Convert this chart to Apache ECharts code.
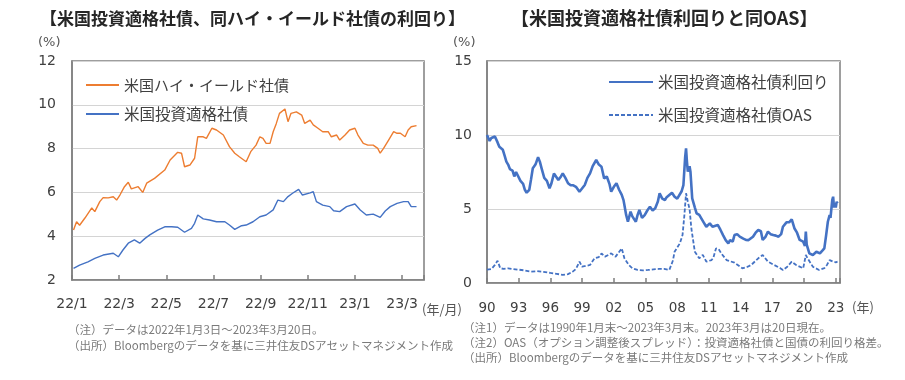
<!DOCTYPE html>
<html><head><meta charset="utf-8">
<script src="https://cdn.jsdelivr.net/npm/echarts@6/dist/echarts.min.js"></script>
<style>html,body{margin:0;padding:0;background:#fff}#c{width:905px;height:380px}</style>
</head><body><div id="c"></div><script>
// ---- Left chart: daily-ish yields 2022/1/3 - 2023/3/20 (%)
const hyDates = ['2022-01-03','2022-01-07','2022-01-11','2022-01-18','2022-01-27','2022-01-31','2022-02-06','2022-02-10','2022-02-16','2022-02-22','2022-02-26','2022-03-02','2022-03-08','2022-03-13','2022-03-17','2022-03-26','2022-04-01','2022-04-06','2022-04-16','2022-04-29','2022-05-06','2022-05-16','2022-05-21','2022-05-25','2022-06-01','2022-06-07','2022-06-11','2022-06-18','2022-06-22','2022-06-29','2022-07-05','2022-07-14','2022-07-22','2022-07-29','2022-08-04','2022-08-13','2022-08-19','2022-08-26','2022-08-31','2022-09-04','2022-09-08','2022-09-13','2022-09-17','2022-09-21','2022-09-25','2022-10-02','2022-10-04','2022-10-06','2022-10-10','2022-10-17','2022-10-24','2022-10-28','2022-11-04','2022-11-08','2022-11-14','2022-11-20','2022-11-27','2022-12-01','2022-12-08','2022-12-12','2022-12-19','2022-12-25','2023-01-01','2023-01-05','2023-01-12','2023-01-18','2023-01-25','2023-01-31','2023-02-03','2023-02-07','2023-02-13','2023-02-19','2023-02-23','2023-02-27','2023-03-05','2023-03-09','2023-03-13','2023-03-20'];
const hyValues = [4.28,4.66,4.5,4.83,5.29,5.12,5.58,5.76,5.75,5.8,5.65,5.88,6.26,6.46,6.16,6.26,6.0,6.42,6.64,7.02,7.48,7.83,7.79,7.17,7.25,7.56,8.54,8.54,8.47,8.93,8.85,8.62,8.09,7.79,7.63,7.4,7.86,8.16,8.54,8.47,8.24,8.24,8.77,9.15,9.61,9.81,9.87,9.23,9.61,9.68,9.53,9.15,9.3,9.08,8.93,8.77,8.77,8.54,8.62,8.39,8.62,8.85,8.93,8.62,8.24,8.16,8.16,8.01,7.79,8.01,8.39,8.77,8.7,8.7,8.54,8.85,9.0,9.05];
const igDates = ['2022-01-03','2022-01-11','2022-01-22','2022-01-31','2022-02-10','2022-02-22','2022-02-28','2022-03-06','2022-03-13','2022-03-21','2022-03-28','2022-04-04','2022-04-10','2022-04-20','2022-04-29','2022-05-08','2022-05-16','2022-05-25','2022-06-03','2022-06-07','2022-06-11','2022-06-18','2022-06-26','2022-07-05','2022-07-16','2022-07-22','2022-07-29','2022-08-07','2022-08-13','2022-08-22','2022-08-31','2022-09-08','2022-09-17','2022-09-23','2022-09-30','2022-10-06','2022-10-12','2022-10-20','2022-10-25','2022-11-04','2022-11-08','2022-11-12','2022-11-20','2022-11-29','2022-12-04','2022-12-12','2022-12-21','2023-01-01','2023-01-08','2023-01-16','2023-01-25','2023-02-03','2023-02-09','2023-02-15','2023-02-23','2023-03-03','2023-03-09','2023-03-13','2023-03-20'];
const igValues = [2.53,2.68,2.83,2.99,3.14,3.22,3.06,3.37,3.68,3.83,3.68,3.9,4.06,4.28,4.43,4.43,4.41,4.18,4.36,4.59,4.97,4.79,4.74,4.66,4.66,4.51,4.31,4.48,4.51,4.66,4.89,4.97,5.2,5.65,5.58,5.81,5.96,6.14,5.88,5.98,6.03,5.58,5.42,5.35,5.16,5.12,5.35,5.47,5.2,4.97,5.01,4.86,5.15,5.35,5.5,5.58,5.58,5.35,5.35];
const leftTickLabels = ['22/1','22/3','22/5','22/7','22/9','22/11','23/1','23/3'];
const leftYTicks = [2,4,6,8,10,12];

// ---- Right chart: month-end 1990/1 - 2023/3 (%)
const ytDates = ['1990-01','1990-04','1990-06','1990-10','1991-01','1991-03','1991-07','1991-09','1991-11','1992-01','1992-03','1992-06','1992-08','1992-10','1992-12','1993-03','1993-06','1993-08','1993-10','1994-01','1994-03','1994-05','1994-08','1994-11','1995-01','1995-03','1995-06','1995-09','1995-12','1996-02','1996-05','1996-07','1996-10','1997-01','1997-03','1997-06','1997-09','1997-12','1998-03','1998-06','1998-10','1998-12','1999-04','1999-07','1999-10','2000-01','2000-05','2000-08','2000-11','2001-02','2001-05','2001-08','2001-10','2002-01','2002-04','2002-07','2002-10','2002-12','2003-01','2003-03','2003-05','2003-08','2003-10','2004-02','2004-04','2004-06','2004-09','2004-12','2005-03','2005-06','2005-09','2005-12','2006-03','2006-05','2006-08','2006-11','2007-01','2007-04','2007-07','2007-10','2008-01','2008-03','2008-06','2008-08','2008-10','2008-11','2008-12','2009-01','2009-03','2009-04','2009-06','2009-09','2009-11','2010-02','2010-04','2010-07','2010-10','2011-02','2011-05','2011-07','2011-11','2012-02','2012-05','2012-08','2012-11','2013-01','2013-04','2013-06','2013-09','2013-12','2014-04','2014-07','2014-10','2015-03','2015-06','2015-09','2015-12','2016-02','2016-05','2016-08','2016-11','2017-02','2017-05','2017-08','2017-11','2018-01','2018-05','2018-08','2018-11','2019-02','2019-05','2019-08','2019-12','2020-02','2020-03','2020-04','2020-07','2020-11','2021-01','2021-03','2021-07','2021-10','2021-12','2022-02','2022-04','2022-06','2022-07','2022-09','2022-10','2022-11','2022-12','2023-01','2023-02','2023-03'];
const ytValues = [10.0,9.6,9.8,9.9,9.5,9.2,9.0,8.6,8.2,8.0,7.7,7.6,7.2,7.5,7.4,6.9,6.7,6.3,6.1,6.3,7.0,7.75,8.0,8.5,8.2,7.75,7.1,6.9,6.4,6.7,7.4,7.45,6.96,7.2,7.41,7.1,6.74,6.6,6.6,6.5,6.17,6.3,6.62,7.1,7.41,7.9,8.31,8.0,7.86,7.07,7.2,6.7,6.17,6.5,6.74,6.3,5.95,5.6,5.27,4.6,4.14,4.82,4.5,4.14,4.6,4.93,4.4,4.59,4.9,5.16,4.9,5.05,5.5,6.06,5.7,5.61,5.8,5.95,6.1,5.83,5.7,5.61,6.2,6.62,8.5,9.1,8.2,7.52,7.9,7.52,5.72,5.1,4.71,4.6,4.48,4.1,3.8,4.03,3.8,3.7,3.92,3.6,3.24,2.9,2.68,2.9,2.8,3.24,3.3,3.13,3.0,2.91,2.9,3.13,3.4,3.58,3.5,2.91,3.1,3.47,3.3,3.24,3.2,3.13,3.3,3.8,4.1,4.1,4.3,3.7,3.4,2.91,2.79,2.5,3.47,2.6,2.0,1.89,1.9,2.11,2.0,2.2,2.34,3.2,4.14,4.59,4.4,5.6,5.83,5.1,5.38,5.1,5.49,5.38];
const oasDates = ['1990-01','1990-06','1990-10','1991-01','1991-04','1991-08','1992-01','1992-06','1993-01','1993-08','1994-03','1994-10','1995-05','1996-01','1996-08','1997-03','1997-09','1998-02','1998-06','1998-10','1999-01','1999-05','1999-10','2000-03','2000-08','2000-11','2001-03','2001-07','2001-10','2002-03','2002-07','2002-10','2003-01','2003-06','2003-10','2004-04','2004-10','2005-04','2005-10','2006-04','2006-10','2007-04','2007-08','2007-10','2008-01','2008-04','2008-07','2008-09','2008-11','2008-12','2009-01','2009-03','2009-05','2009-08','2009-09','2010-02','2010-06','2010-10','2011-04','2011-06','2011-09','2011-12','2012-03','2012-09','2013-06','2014-03','2014-09','2015-01','2015-09','2016-02','2016-08','2017-03','2017-10','2018-01','2018-06','2018-11','2019-04','2019-12','2020-02','2020-03','2020-05','2020-11','2021-06','2021-12','2022-03','2022-06','2022-10','2023-01','2023-03'];
const oasValues = [0.9,0.95,1.22,1.5,1.0,0.95,0.99,0.95,0.9,0.85,0.77,0.8,0.75,0.68,0.62,0.55,0.6,0.75,0.95,1.44,1.1,1.15,1.22,1.67,1.75,2.0,1.78,1.9,2.0,1.78,2.1,2.34,1.67,1.22,1.0,0.88,0.85,0.88,0.92,0.95,0.95,0.88,1.5,2.11,2.4,2.68,3.24,4.5,6.06,5.8,5.49,5.0,3.7,2.5,2.11,1.67,1.9,1.44,1.55,1.7,2.34,2.3,2.0,1.55,1.37,0.99,1.1,1.22,1.67,1.89,1.44,1.22,1.0,0.88,1.1,1.44,1.22,0.99,1.0,1.89,1.67,1.1,0.88,1.0,1.22,1.55,1.44,1.4,1.44];
const rightTickLabels = ['90','93','96','99','02','05','08','11','14','17','20','23'];
const rightYTicks = [0,5,10,15];

function monthPos(s){const p=s.split('-').map(Number);const dim=new Date(p[0],p[1],0).getDate();return (p[0]-2022)*12+(p[1]-1)+(p[2]-1)/dim;}
function yearPos(s){const p=s.split('-').map(Number);return (p[0]-1990)+(p[1]-1)/12;}
const zip=(d,v,f)=>d.map((x,i)=>[f(x),v[i]]);

const ORANGE='#ED7D31', BLUE='#4472C4', AX='#7f7f7f', GRID='#d4d4d4', LBL='#404040', NOTE='#7a7a7a';
const JP="'Noto Sans CJK JP','Noto Sans',sans-serif";
const NUM="'DejaVu Sans',sans-serif";

function labelFmt(labels, step){return v=>{const i=v/step;return (Math.abs(i-Math.round(i))<1e-6 && labels[Math.round(i)]!==undefined)?labels[Math.round(i)]:'';};}
function lg(name,left,top,w,fs){return {data:[name],left:left,top:top,padding:0,itemWidth:w,itemHeight:14,itemStyle:{opacity:0,borderWidth:0},textStyle:{fontFamily:JP,fontSize:fs,color:'#404040',lineHeight:16}};}

const chart=echarts.init(document.getElementById('c'),null,{renderer:'canvas'});
const noteStyle={fill:NOTE,font:"11.5px "+JP};
chart.setOption({
  animation:false,
  backgroundColor:'#fff',
  grid:[
    {left:72,top:61,width:352,height:219,show:true,borderColor:AX,borderWidth:1.5,backgroundColor:'transparent'},
    {left:487,top:61,width:353,height:222,show:true,borderColor:AX,borderWidth:1.5,backgroundColor:'transparent'}
  ],
  xAxis:[
    {type:'value',gridIndex:0,min:0,max:14.93,interval:2,
     axisLine:{show:true,lineStyle:{color:AX,width:1.5}},
     axisTick:{show:true,inside:true,length:5,lineStyle:{color:AX,width:1.5}},
     splitLine:{show:false},
     axisLabel:{margin:17,color:LBL,fontFamily:NUM,fontSize:14,formatter:labelFmt(leftTickLabels,2)}},
    {type:'value',gridIndex:1,min:0,max:33.4,interval:3,
     axisLine:{show:true,lineStyle:{color:AX,width:1.5}},
     axisTick:{show:true,inside:true,length:5,lineStyle:{color:AX,width:1.5}},
     splitLine:{show:false},
     axisLabel:{margin:18,color:LBL,fontFamily:NUM,fontSize:13.5,formatter:labelFmt(rightTickLabels,3)}}
  ],
  yAxis:[
    {type:'value',gridIndex:0,min:leftYTicks[0],max:leftYTicks[leftYTicks.length-1],interval:2,
     axisLine:{show:true,lineStyle:{color:AX,width:1.5}},axisTick:{show:false},
     splitLine:{show:true,lineStyle:{color:GRID,width:1.2}},
     axisLabel:{margin:16,color:LBL,fontFamily:NUM,fontSize:14}},
    {type:'value',gridIndex:1,min:rightYTicks[0],max:rightYTicks[rightYTicks.length-1],interval:5,
     axisLine:{show:true,lineStyle:{color:AX,width:1.5}},axisTick:{show:false},
     splitLine:{show:true,lineStyle:{color:GRID,width:1.2}},
     axisLabel:{margin:15,color:LBL,fontFamily:NUM,fontSize:14}}
  ],
  legend:[
    lg('米国ハイ・イールド社債',85,77,33,15),
    lg('米国投資適格社債',85,106,33,15.5),
    lg('米国投資適格社債利回り',608,74,44,15.5),
    lg('米国投資適格社債OAS',608,107,44,15.5)
  ],
  series:[
    {name:'米国ハイ・イールド社債',type:'line',xAxisIndex:0,yAxisIndex:0,symbol:'none',data:zip(hyDates,hyValues,monthPos),lineStyle:{color:ORANGE,width:1.4},itemStyle:{color:ORANGE}},
    {name:'米国投資適格社債',type:'line',xAxisIndex:0,yAxisIndex:0,symbol:'none',data:zip(igDates,igValues,monthPos),lineStyle:{color:BLUE,width:1.4},itemStyle:{color:BLUE}},
    {name:'米国投資適格社債利回り',type:'line',xAxisIndex:1,yAxisIndex:1,symbol:'none',data:zip(ytDates,ytValues,yearPos),lineStyle:{color:BLUE,width:2.6},itemStyle:{color:BLUE}},
    {name:'米国投資適格社債OAS',type:'line',xAxisIndex:1,yAxisIndex:1,symbol:'none',data:zip(oasDates,oasValues,yearPos),lineStyle:{color:BLUE,width:1.8,type:[4,2]},itemStyle:{color:BLUE}}
  ],
  graphic:[
    {type:'text',left:40,top:10,style:{text:'【米国投資適格社債、同ハイ・イールド社債の利回り】',fill:'#262626',font:"bold 17px "+JP}},
    {type:'text',left:511,top:9,style:{text:'【米国投資適格社債利回りと同OAS】',fill:'#262626',font:"bold 18px "+JP}},
    {type:'text',left:38,top:36,style:{text:'(%)',fill:'#555',font:"13px "+NUM}},
    {type:'text',left:453,top:36,style:{text:'(%)',fill:'#555',font:"13px "+NUM}},
    {type:'text',left:422,top:303,style:{text:'(年/月)',fill:'#555',font:"13px "+JP}},
    {type:'text',left:852,top:301,style:{text:'(年)',fill:'#555',font:"13px "+JP}},
    {type:'text',left:68,top:324,style:Object.assign({text:'（注）データは2022年1月3日～2023年3月20日。'},noteStyle)},
    {type:'text',left:68,top:340,style:Object.assign({text:'（出所）Bloombergのデータを基に三井住友DSアセットマネジメント作成'},noteStyle)},
    {type:'text',left:463,top:322,style:Object.assign({text:'（注1）データは1990年1月末～2023年3月末。2023年3月は20日現在。'},noteStyle)},
    {type:'text',left:463,top:337,style:Object.assign({text:'（注2）OAS（オプション調整後スプレッド）：投資適格社債と国債の利回り格差。'},noteStyle)},
    {type:'text',left:463,top:352,style:Object.assign({text:'（出所）Bloombergのデータを基に三井住友DSアセットマネジメント作成'},noteStyle)}
  ]
});
</script></body></html>
